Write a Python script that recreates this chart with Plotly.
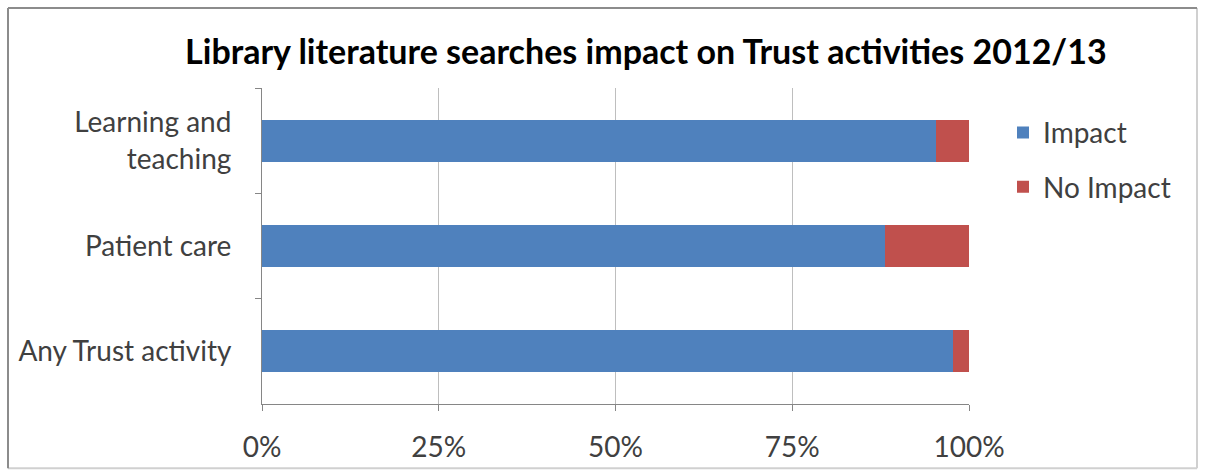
import plotly.graph_objects as go

categories = ["Learning and<br>teaching", "Patient care", "Any Trust activity"]
impact = [95.3, 88.1, 97.7]
no_impact = [4.7, 11.9, 2.3]
x_ticks = [0, 25, 50, 75, 100]
x_tick_labels = ["0%", "25%", "50%", "75%", "100%"]

W, H = 1205, 475
L, R, T, B = 262, 236, 88, 67
pw, ph = W - L - R, H - T - B

def px_x(x):
    return (x - L) / pw

def px_y(y):
    return (H - B - y) / ph

FONT = "Lato"

fig = go.Figure()
fig.add_trace(go.Bar(y=categories, x=impact, name="Impact", orientation="h",
                     legendgroup="a",
                     marker=dict(color="#4F81BD", line=dict(width=0))))
fig.add_trace(go.Bar(y=categories, x=no_impact, name="No Impact", orientation="h",
                     legendgroup="b",
                     marker=dict(color="#C0504D", line=dict(width=0))))

x0b, x1b, y0b, y1b = px_x(8), px_x(1197), px_y(473), px_y(7)
dark = dict(color="#8C8C8C", width=2)
light = dict(color="#D0D0D0", width=2)

fig.update_layout(
    width=W, height=H,
    margin=dict(l=L, r=R, t=T, b=B, pad=0),
    barmode="stack", bargap=0.6,
    paper_bgcolor="white", plot_bgcolor="white",
    font=dict(family=FONT, size=28, color="#404040"),
    title=dict(text="<b>Library literature searches impact on Trust activities 2012/13</b>",
               x=0.536, xanchor="center", y=0.89, yanchor="middle",
               font=dict(family=FONT, size=34, color="#000000")),
    legend=dict(x=px_x(1003), y=px_y(108), xanchor="left", yanchor="top",
                traceorder="grouped", font=dict(family=FONT, size=28, color="#404040"),
                itemwidth=30, tracegroupgap=15, bgcolor="rgba(0,0,0,0)"),
    xaxis=dict(range=[0, 100], tickvals=x_ticks, ticktext=x_tick_labels,
               showgrid=True, gridcolor="#BEBEBE", gridwidth=1,
               showline=True, linecolor="#868686", linewidth=1,
               ticks="outside", ticklen=6, tickcolor="#868686",
               zeroline=False, fixedrange=True, ticklabelstandoff=12),
    yaxis=dict(autorange="reversed", showline=True, linecolor="#868686", linewidth=1,
               ticks="outside", ticklen=6, tickcolor="#868686", tickson="boundaries",
               showgrid=False, ticklabelstandoff=24),
    shapes=[
        dict(type="line", xref="paper", yref="paper", x0=x0b, x1=x1b, y0=y0b, y1=y0b, line=light, layer="below"),
        dict(type="line", xref="paper", yref="paper", x0=x1b, x1=x1b, y0=y0b, y1=y1b, line=light, layer="below"),
        dict(type="line", xref="paper", yref="paper", x0=x0b, x1=x1b, y0=y1b, y1=y1b, line=dark, layer="below"),
        dict(type="line", xref="paper", yref="paper", x0=x0b, x1=x0b, y0=y0b, y1=y1b, line=dark, layer="below"),
    ],
)

fig.write_html("out.html", config={"displayModeBar": False},
               post_script="document.body.style.margin='0';")
